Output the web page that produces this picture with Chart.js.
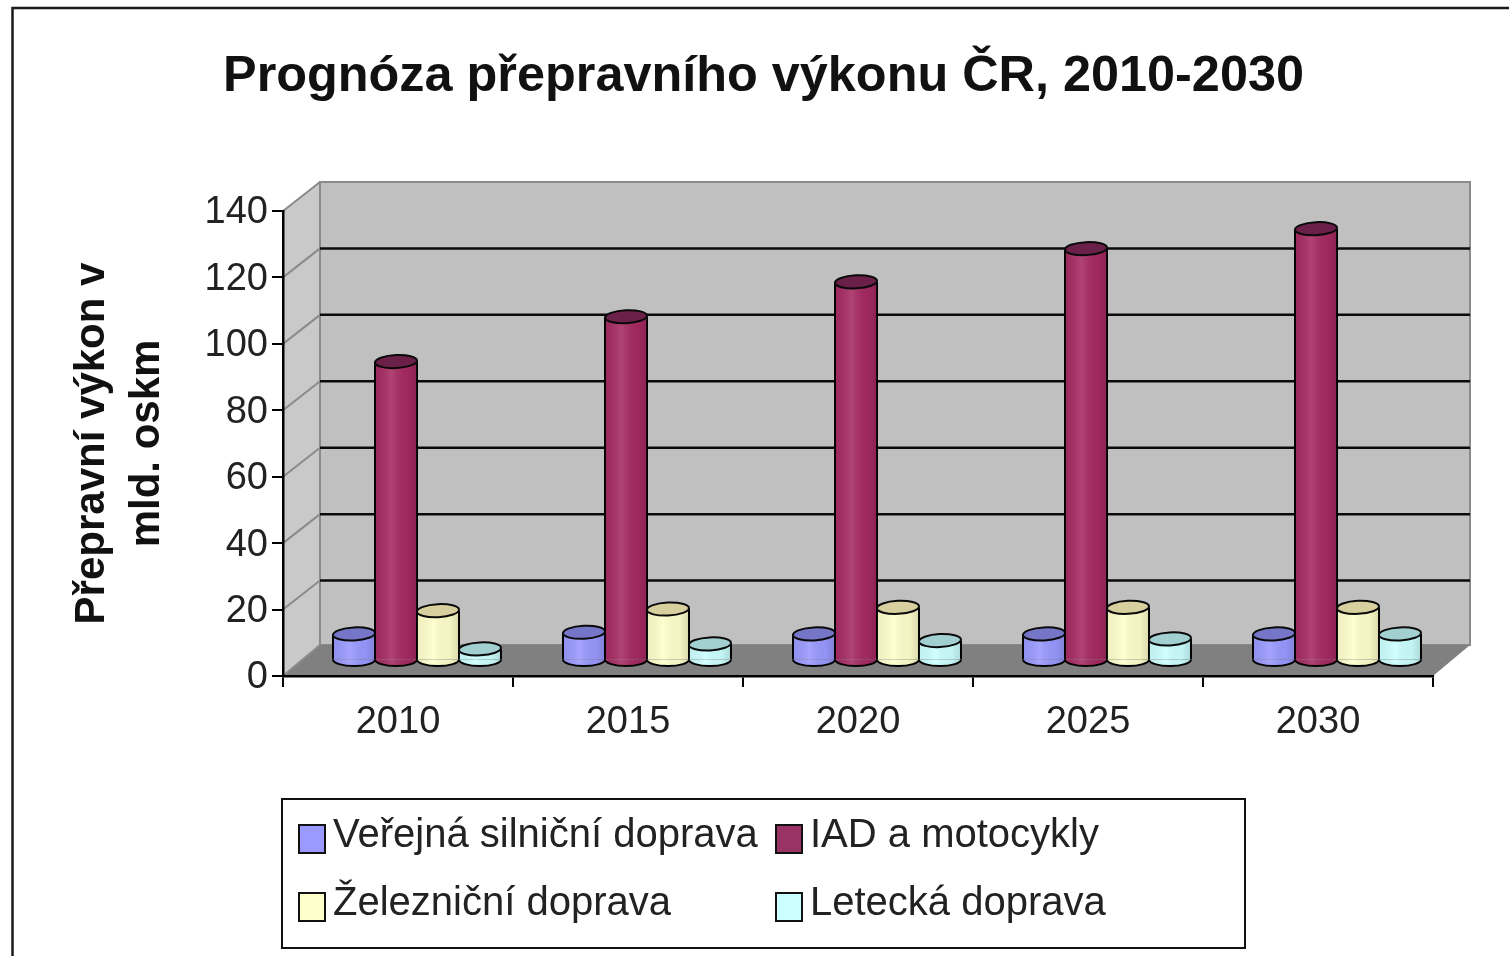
<!DOCTYPE html>
<html lang="cs">
<head>
<meta charset="utf-8">
<title>Prognóza přepravního výkonu ČR, 2010-2030</title>
<script src="https://cdn.jsdelivr.net/npm/chart.js@4"></script>
<style>
html,body{margin:0;padding:0;background:#fff;overflow:hidden}
canvas{display:block;filter:blur(0.7px)}
</style>
</head>
<body>
<canvas id="c" width="1509" height="956"></canvas>
<script>
const categories = ['2010', '2015', '2020', '2025', '2030'];
const verejna = [8, 8.5, 8, 8, 8];
const iad = [90, 103.5, 114, 124, 130];
const zeleznicni = [15, 15.5, 16, 16, 16];
const letecka = [3.5, 5, 6, 6.5, 8];
const seriesNames = ['Veřejná silniční doprava', 'IAD a motocykly', 'Železniční doprava', 'Letecká doprava'];
const seriesColors = ['#9999ff', '#993366', '#ffffcc', '#ccffff'];
const barColors = ['#9999ff', '#a62a62', '#ffffcc', '#ccffff'];
const topColors = ['#7676c8', '#6a2048', '#d8cf9f', '#a2cfcf'];
const titleText = 'Prognóza přepravního výkonu ČR, 2010-2030';
const yAxisTitle = ['Přepravní výkon v', 'mld. oskm'];

const FONT = '"Liberation Sans", Arial, sans-serif';
const DEPTH_X = 37, DEPTH_Y = 31, GRID_RISE = 29;

function drawCylinderParts(chart, i, meta) {
  const {ctx} = chart;
  meta.data.forEach(el => {
    const w = el.width, x = el.x, top = el.y, base = el.base;
    const rx = w / 2, ry = 6.5;
    const lx = x - rx;
    const shade = ctx.createLinearGradient(lx, 0, lx + w, 0);
    shade.addColorStop(0, 'rgba(0,0,0,0.06)');
    shade.addColorStop(0.4, 'rgba(255,255,255,0.12)');
    shade.addColorStop(0.75, 'rgba(0,0,0,0.04)');
    shade.addColorStop(1, 'rgba(0,0,0,0.16)');
    // lower rim
    ctx.beginPath(); ctx.ellipse(x, base, rx - 1, ry, 0, 0, Math.PI);
    ctx.fillStyle = barColors[i]; ctx.fill();
    ctx.beginPath(); ctx.rect(lx + 2, top, w - 4, base - top); ctx.ellipse(x, base, rx - 2, ry, 0, 0, Math.PI);
    ctx.fillStyle = shade; ctx.fill();
    ctx.strokeStyle = '#000'; ctx.lineWidth = 2;
    ctx.beginPath(); ctx.ellipse(x, base, rx - 1, ry, 0, 0, Math.PI); ctx.stroke();
    // top cap
    ctx.beginPath(); ctx.ellipse(x, top, rx - 1, ry, -0.05, 0, Math.PI * 2);
    ctx.fillStyle = topColors[i]; ctx.fill();
    ctx.strokeStyle = '#0a0a0a'; ctx.stroke();
  });
}

const scene = {
  id: 'scene',
  afterLayout(chart) {
    chart.titleBlock.left += 47;
    chart.titleBlock.right += 47;
  },
  beforeDraw(chart) {
    const {ctx, chartArea: a, scales: {y}} = chart;
    ctx.save();
    // outer frame
    ctx.strokeStyle = '#1a1a1a'; ctx.lineWidth = 2.5;
    ctx.beginPath(); ctx.moveTo(12.5, 956); ctx.lineTo(12.5, 8); ctx.lineTo(1509, 8); ctx.stroke();
    const t = a.top, b = a.bottom, l = a.left, r = a.right;
    const backTop = t - GRID_RISE, backBottom = b - DEPTH_Y;
    // side wall
    ctx.fillStyle = '#c9c9c9';
    ctx.beginPath(); ctx.moveTo(l, t); ctx.lineTo(l + DEPTH_X, backTop); ctx.lineTo(l + DEPTH_X, backBottom); ctx.lineTo(l, b); ctx.closePath(); ctx.fill();
    // back wall
    ctx.fillStyle = '#c0c0c0';
    ctx.fillRect(l + DEPTH_X, backTop, r - l, backBottom - backTop);
    ctx.strokeStyle = '#8a8a8a'; ctx.lineWidth = 2;
    ctx.strokeRect(l + DEPTH_X, backTop, r - l, backBottom - backTop);
    // floor
    ctx.fillStyle = '#808080';
    ctx.beginPath(); ctx.moveTo(l, b); ctx.lineTo(l + DEPTH_X, backBottom); ctx.lineTo(r + DEPTH_X, backBottom); ctx.lineTo(r, b); ctx.closePath(); ctx.fill();
    // gridlines
    y.ticks.forEach(tick => {
      const py = y.getPixelForValue(tick.value);
      const rise = tick.value === 0 ? DEPTH_Y : GRID_RISE;
      ctx.strokeStyle = '#8a8a8a'; ctx.lineWidth = 2;
      ctx.beginPath(); ctx.moveTo(l, py); ctx.lineTo(l + DEPTH_X, py - rise); ctx.stroke();
      if (tick.value > 0 && tick.value < y.max) {
        ctx.strokeStyle = '#0a0a0a'; ctx.lineWidth = 2.5;
        ctx.beginPath(); ctx.moveTo(l + DEPTH_X, py - rise); ctx.lineTo(r + DEPTH_X, py - rise); ctx.stroke();
      }
    });
    ctx.restore();
  },
  beforeDatasetDraw() {
    return false;
  },
  afterDatasetsDraw(chart) {
    const {ctx} = chart;
    ctx.save();
    ctx.translate(DEPTH_X / 2 + 0.5, -DEPTH_Y / 2);
    // left-to-right painting so each cylinder overlaps its left neighbour
    chart.data.datasets.forEach((ds, i) => {
      const meta = chart.getDatasetMeta(i);
      meta.controller.draw();
      drawCylinderParts(chart, i, meta);
    });
    ctx.restore();
  },
  afterDraw(chart) {
    const {ctx} = chart;
    ctx.save();
    ctx.strokeStyle = '#111'; ctx.lineWidth = 2;
    ctx.strokeRect(282, 799, 963, 149);
    const cols = [299, 776], rows = [825, 893];
    ctx.font = '40px ' + FONT; ctx.textBaseline = 'middle'; ctx.textAlign = 'left';
    seriesNames.forEach((name, i) => {
      const cx = cols[i % 2], cy = rows[Math.floor(i / 2)];
      ctx.fillStyle = seriesColors[i]; ctx.fillRect(cx, cy, 26, 28);
      ctx.strokeStyle = '#111'; ctx.lineWidth = 2; ctx.strokeRect(cx, cy, 26, 28);
      ctx.fillStyle = '#222';
      ctx.fillText(name, cx + 34, cy + 11);
    });
    ctx.restore();
  }
};

const dataSeries = [verejna, iad, zeleznicni, letecka];
new Chart(document.getElementById('c'), {
  type: 'bar',
  data: {
    labels: categories,
    datasets: dataSeries.map((values, i) => ({
      label: seriesNames[i],
      data: values,
      backgroundColor: barColors[i],
      borderColor: '#000',
      borderWidth: {left: 2, right: 2, top: 0, bottom: 0},
      borderSkipped: false,
      categoryPercentage: 0.73,
      barPercentage: 1.05
    }))
  },
  options: {
    responsive: false,
    animation: false,
    events: [],
    layout: {padding: {left: 0, right: 76, top: 0, bottom: 0}},
    plugins: {
      legend: {display: false},
      tooltip: {enabled: false},
      title: {
        display: true,
        text: titleText,
        color: '#111',
        font: {family: FONT, size: 50.4, weight: 'bold', lineHeight: 1.2},
        padding: {top: 47, bottom: 103.5}
      }
    },
    scales: {
      x: {
        grid: {drawOnChartArea: false, drawTicks: true, tickLength: 11, color: '#000', lineWidth: 2},
        border: {display: true, color: '#000', width: 2.5},
        ticks: {color: '#222', padding: 13, font: {family: FONT, size: 38}, maxRotation: 0},
        afterFit(s) { s.height = 280; }
      },
      y: {
        min: 0,
        max: 140,
        grid: {drawOnChartArea: false, drawTicks: true, tickLength: 11, color: '#000', lineWidth: 2},
        border: {display: true, color: '#000', width: 2.5},
        ticks: {stepSize: 20, color: '#222', padding: 4, labelOffset: 2, font: {family: FONT, size: 38}},
        title: {
          display: true,
          text: yAxisTitle,
          color: '#111',
          font: {family: FONT, size: 42, weight: 'bold', lineHeight: 1.31},
          padding: {top: 65, bottom: 0}
        },
        afterFit(s) { s.width = 283; }
      }
    }
  },
  plugins: [scene]
});
</script>
</body>
</html>
